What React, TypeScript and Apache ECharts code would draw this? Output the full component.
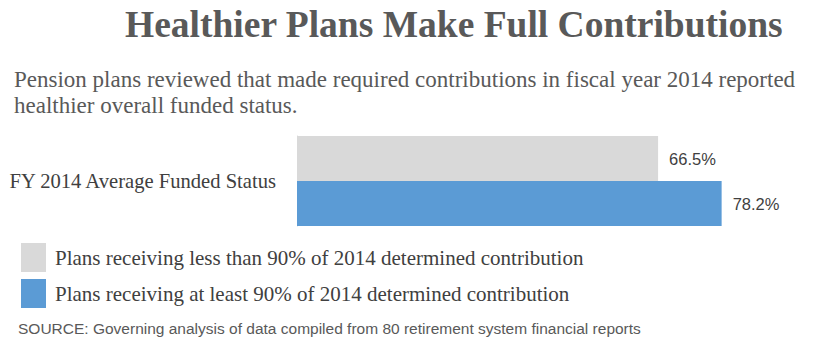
import React, { useEffect, useRef } from "react";
import * as echarts from "echarts";

const categories = ["FY 2014 Average Funded Status"];
const seriesNames = [
  "Plans receiving less than 90% of 2014 determined contribution",
  "Plans receiving at least 90% of 2014 determined contribution",
];
const lessThan90 = [66.5];
const atLeast90 = [78.2];
const colors = ["#d9d9d9", "#5b9bd5"];
const titleText = "Healthier Plans Make Full Contributions";
const subtitleLines = [
  "Pension plans reviewed that made required contributions in fiscal year 2014 reported",
  "healthier overall funded status.",
];
const sourceText =
  "SOURCE: Governing analysis of data compiled from 80 retirement system financial reports";

const SERIF = "'Liberation Serif', 'DejaVu Serif', serif";
const SANS = "'Liberation Sans', Arial, sans-serif";

export default function App() {
  const ref = useRef<HTMLDivElement>(null);
  useEffect(() => {
    if (!ref.current) return;
    const chart = echarts.init(ref.current, undefined, { renderer: "svg" });
    const valueLabel = {
      show: true,
      position: "right",
      distance: 11,
      formatter: (p: any) => p.value.toFixed(1) + "%",
      color: "#404040",
      fontFamily: SANS,
      fontSize: 16.5,
    };
    chart.setOption({
      animation: false,
      backgroundColor: "#ffffff",
      grid: { left: 297, right: 0, top: 136, bottom: 130, containLabel: false },
      xAxis: {
        type: "value",
        min: 0,
        max: 100,
        show: false,
      },
      yAxis: {
        type: "category",
        data: categories,
        inverse: true,
        axisLine: { show: true, lineStyle: { color: "#d9d9d9", width: 1 } },
        axisTick: { show: false },
        axisLabel: {
          margin: 21,
          color: "#404040",
          fontFamily: SERIF,
          fontSize: 20.6,
        },
      },
      legend: {
        orient: "vertical",
        left: 16,
        top: 238,
        itemWidth: 25,
        itemHeight: 29,
        itemGap: 7,
        icon: "rect",
        selectedMode: false,
        textStyle: {
          color: "#404040",
          fontFamily: SERIF,
          fontSize: 21,
          padding: [0, 0, 0, 4],
        },
        data: seriesNames,
      },
      series: [
        {
          name: seriesNames[0],
          type: "bar",
          data: lessThan90,
          barWidth: 45,
          barGap: "0%",
          itemStyle: { color: colors[0] },
          label: valueLabel,
        },
        {
          name: seriesNames[1],
          type: "bar",
          data: atLeast90,
          barWidth: 45,
          barGap: "0%",
          itemStyle: { color: colors[1] },
          label: valueLabel,
        },
      ],
      graphic: [
        {
          type: "text",
          left: 125,
          top: 5,
          style: {
            text: titleText,
            fill: "#595959",
            font: "bold 37.5px " + SERIF,
          },
        },
        {
          type: "text",
          left: 14,
          top: 68,
          style: {
            text: subtitleLines[0],
            fill: "#595959",
            font: "23px " + SERIF,
            lineHeight: 23,
          },
        },
        {
          type: "text",
          left: 14,
          top: 94,
          style: {
            text: subtitleLines[1],
            fill: "#595959",
            font: "23px " + SERIF,
            lineHeight: 23,
          },
        },
        {
          type: "text",
          left: 18,
          top: 320,
          style: {
            text: sourceText,
            fill: "#595959",
            font: "15.5px " + SANS,
          },
        },
      ],
    });
    return () => chart.dispose();
  }, []);
  return (
    <div
      ref={ref}
      style={{ position: "fixed", left: 0, top: 0, width: 840, height: 356 }}
    />
  );
}
